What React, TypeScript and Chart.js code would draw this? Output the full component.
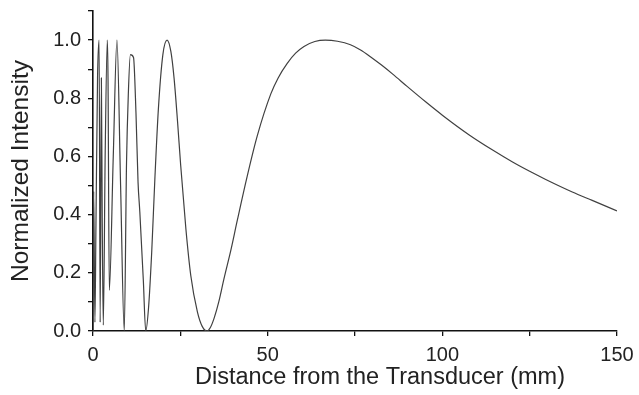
import React, { useEffect, useRef } from "react";
import { Chart, registerables } from "chart.js";

Chart.register(...registerables);

// Distance from the transducer (mm)
const distanceMm: number[] = [
  0, 0.2, 0.55, 0.85, 1.3, 1.75, 2.05, 2.4, 2.65, 2.95, 3.5, 4.1, 4.3, 4.67,
  5.8, 6.86, 7.9, 8.95, 9.6, 10.1, 10.7, 11.6, 12.3, 12.9, 13.4, 14.4, 15.1,
  15.9, 16.8, 17.7, 18.7, 20.0, 21.2, 22.3, 23.2, 24.2, 25.1, 26.6, 28.0, 29.9,
  31.3, 32.6, 33.6, 34.7, 36.0, 37.5, 39.5, 41.3, 44.1, 47.0, 50.9, 53.0, 55.6,
  58.0, 60.4, 63.5, 66.5, 70.0, 73.7, 76.6, 79.4, 82.5, 85.8, 90.0, 95.3,
  100.1, 107.7, 114.4, 120.1, 125.0, 129.6, 137.2, 142.9, 150,
];

// Normalized on-axis intensity
const intensity: number[] = [
  0.0, 0.48, 0.03, 0.37, 0.87, 1.0, 0.03, 0.87, 0.37, 0.02, 0.62, 1.0, 0.87,
  0.14, 0.6, 1.0, 0.5, 0.0, 0.58, 0.81, 0.95, 0.94, 0.75, 0.51, 0.41, 0.176,
  0.0, 0.08, 0.27, 0.52, 0.76, 0.95, 1.0, 0.96, 0.87, 0.72, 0.57, 0.35, 0.19,
  0.065, 0.015, 0.0, 0.012, 0.045, 0.1, 0.18, 0.28, 0.38, 0.53, 0.67, 0.815,
  0.87, 0.92, 0.955, 0.978, 0.995, 1.0, 0.996, 0.984, 0.966, 0.943, 0.915,
  0.883, 0.84, 0.787, 0.741, 0.674, 0.622, 0.581, 0.549, 0.521, 0.478, 0.449,
  0.413,
];

const xTitle = "Distance from the Transducer (mm)";
const yTitle = "Normalized Intensity";
const xLabeled: number[] = [0, 50, 100, 150];
const yLabeled: number[] = [0, 0.2, 0.4, 0.6, 0.8, 1.0];

const FONT = "'Liberation Sans', Arial, sans-serif";
const TEXT = "#222222";

// Draws the x-axis title slightly right of centre, as in the original figure
const xTitlePlugin = {
  id: "xTitlePlugin",
  afterDraw(chart: any) {
    const { ctx, chartArea } = chart;
    ctx.save();
    ctx.fillStyle = TEXT;
    ctx.font = `23.5px ${FONT}`;
    ctx.textAlign = "center";
    ctx.textBaseline = "middle";
    ctx.fillText(xTitle, (chartArea.left + chartArea.right) / 2 + 25, 378);
    ctx.restore();
  },
};

export default function App() {
  const ref = useRef<HTMLCanvasElement | null>(null);

  useEffect(() => {
    if (!ref.current) return;
    const points = distanceMm.map((x, i) => ({ x, y: intensity[i] }));
    const chart = new Chart(ref.current, {
      type: "line",
      data: {
        datasets: [
          {
            data: points,
            borderColor: "#404040",
            borderWidth: 1.2,
            pointRadius: 0,
            fill: false,
            cubicInterpolationMode: "monotone",
          },
        ],
      },
      plugins: [xTitlePlugin],
      options: {
        responsive: false,
        animation: false,
        layout: { padding: { top: 11, right: 22, left: 0, bottom: 0 } },
        plugins: { legend: { display: false }, tooltip: { enabled: false } },
        scales: {
          x: {
            type: "linear",
            min: 0,
            max: 150,
            afterFit: (axis: any) => {
              axis.height = 64;
              axis.paddingLeft = 0;
              axis.paddingRight = 0;
            },
            ticks: {
              stepSize: 25,
              autoSkip: false,
              maxRotation: 0,
              padding: 7,
              color: TEXT,
              font: { family: FONT, size: 20 },
              callback: (v: any) =>
                xLabeled.includes(Number(v)) ? String(v) : "",
            },
            grid: {
              drawOnChartArea: false,
              drawTicks: true,
              tickLength: 5,
              color: "#111",
              lineWidth: 1.3,
            },
            border: { display: true, color: "#111", width: 1.6 },
            title: { display: false },
          },
          y: {
            type: "linear",
            min: 0,
            max: 1.1,
            afterFit: (axis: any) => {
              axis.width = 93;
              axis.paddingTop = 0;
              axis.paddingBottom = 0;
            },
            ticks: {
              stepSize: 0.1,
              autoSkip: false,
              padding: 7,
              color: TEXT,
              font: { family: FONT, size: 20 },
              callback: (v: any) => {
                const n = Math.round(Number(v) * 10) / 10;
                return yLabeled.some((t) => Math.abs(t - n) < 1e-6)
                  ? n.toFixed(1)
                  : "";
              },
            },
            grid: {
              drawOnChartArea: false,
              drawTicks: true,
              tickLength: 5,
              color: "#111",
              lineWidth: 1.3,
            },
            border: { display: true, color: "#111", width: 1.6 },
            title: {
              display: true,
              text: yTitle,
              color: TEXT,
              font: { family: FONT, size: 24.5 },
              padding: { top: 7, bottom: 0 },
            },
          },
        },
      },
    });
    return () => chart.destroy();
  }, []);

  return (
    <canvas
      ref={ref}
      width={639}
      height={395}
      style={{ position: "absolute", left: 0, top: 0, width: 639, height: 395 }}
    />
  );
}
